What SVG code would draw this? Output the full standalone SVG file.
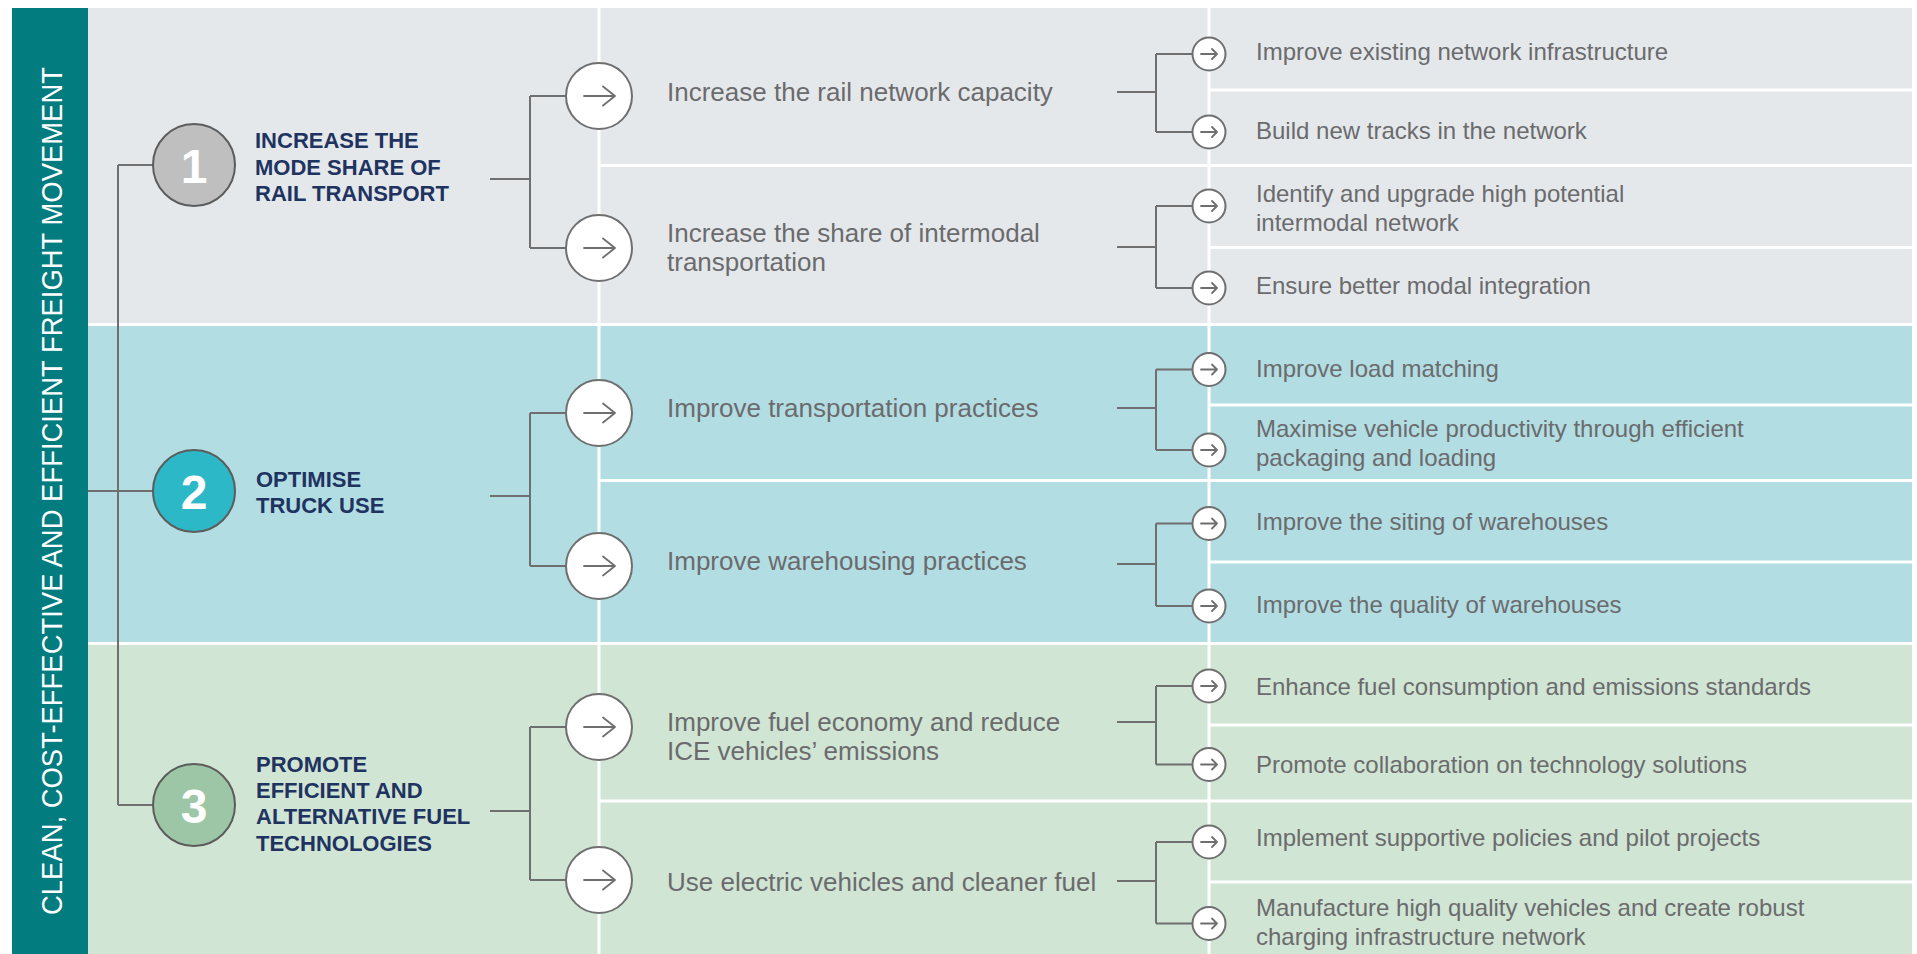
<svg xmlns="http://www.w3.org/2000/svg" width="1917" height="954" viewBox="0 0 1917 954">
<style>
.body{font-family:"Liberation Sans",Arial,sans-serif;fill:#6b6b6d}
.t2{font-size:26px}
.t3{font-size:24px}
.title{font-family:"Liberation Sans",Arial,sans-serif;font-weight:bold;font-size:22px;fill:#1f3360}
.num{font-family:"Liberation Sans",Arial,sans-serif;font-weight:bold;font-size:48px;fill:#fff;text-anchor:middle}
.conn{fill:none;stroke:#6f6f6f;stroke-width:2}
.div{stroke:#fff;stroke-width:3}
.arrow{fill:none;stroke:#6f6f6f;stroke-width:1.8;stroke-linecap:round;stroke-linejoin:round}
.big{fill:#fff;stroke:#6f6f6f;stroke-width:2}
.goal{stroke:#5c5c5c;stroke-width:2}
</style>
<defs>
<g id="bigA"><circle class="big" r="33"/><path class="arrow" d="M-15 0H16M4-9.5L16 0L4 9.5"/></g>
<g id="smallA"><circle class="big" r="16.5"/><path class="arrow" d="M-8 0H8M3-5L8 0L3 5"/></g>
</defs>

<g id="background">
<rect x="12" y="8" width="76" height="946" fill="#037c80"/>
<rect x="88" y="8" width="1824" height="317" fill="#e4e8eb"/>
<rect x="88" y="325" width="1824" height="318" fill="#b2dde3"/>
<rect x="88" y="643" width="1824" height="311" fill="#d0e5d4"/>
<line class="div" x1="88" y1="324.5" x2="1912" y2="324.5"/>
<line class="div" x1="88" y1="643.5" x2="1912" y2="643.5"/>
<line class="div" x1="599" y1="8" x2="599" y2="954"/>
<line class="div" x1="1209" y1="8" x2="1209" y2="954"/>
<line class="div" x1="599" y1="165.5" x2="1912" y2="165.5"/>
<line class="div" x1="599" y1="480.5" x2="1912" y2="480.5"/>
<line class="div" x1="599" y1="801" x2="1912" y2="801"/>
<line class="div" x1="1209" y1="90" x2="1912" y2="90"/>
<line class="div" x1="1209" y1="247.5" x2="1912" y2="247.5"/>
<line class="div" x1="1209" y1="405" x2="1912" y2="405"/>
<line class="div" x1="1209" y1="562" x2="1912" y2="562"/>
<line class="div" x1="1209" y1="725" x2="1912" y2="725"/>
<line class="div" x1="1209" y1="882" x2="1912" y2="882"/>
</g>

<g id="vision">
<text transform="translate(61.5,491) rotate(-90)" text-anchor="middle" font-family="'Liberation Sans',Arial,sans-serif" font-size="29.5" fill="#fff" textLength="848" lengthAdjust="spacingAndGlyphs">CLEAN, COST-EFFECTIVE AND EFFICIENT FREIGHT MOVEMENT</text>
</g>

<g id="connectors">
<path class="conn" d="M118 165V805M118 165H153M88 491H153M118 805H153"/>
<path class="conn" d="M490 179H530M530 96V248M530 96H566M530 248H566"/>
<path class="conn" d="M490 496H530M530 413V566M530 413H566M530 566H566"/>
<path class="conn" d="M490 811H530M530 727V880M530 727H566M530 880H566"/>
<path class="conn" d="M1117 92H1156M1156 54V132M1156 54H1192.5M1156 132H1192.5"/>
<path class="conn" d="M1117 247H1156M1156 206V288M1156 206H1192.5M1156 288H1192.5"/>
<path class="conn" d="M1117 408H1156M1156 369.5V450M1156 369.5H1192.5M1156 450H1192.5"/>
<path class="conn" d="M1117 564H1156M1156 523.5V606M1156 523.5H1192.5M1156 606H1192.5"/>
<path class="conn" d="M1117 722H1156M1156 686V764.5M1156 686H1192.5M1156 764.5H1192.5"/>
<path class="conn" d="M1117 881H1156M1156 842V923.5M1156 842H1192.5M1156 923.5H1192.5"/>
</g>

<g id="goal1">
<circle class="goal" cx="194" cy="165" r="41" fill="#bfbfbf"/>
<text class="num" x="194" y="183">1</text>
<text class="title"><tspan x="255" y="148">INCREASE THE</tspan><tspan x="255" y="175">MODE SHARE OF</tspan><tspan x="255" y="201">RAIL TRANSPORT</tspan></text>
</g>
<g id="goal2">
<circle class="goal" cx="194" cy="491" r="41" fill="#2db8c7"/>
<text class="num" x="194" y="509">2</text>
<text class="title"><tspan x="256" y="487">OPTIMISE</tspan><tspan x="256" y="513">TRUCK USE</tspan></text>
</g>
<g id="goal3">
<circle class="goal" cx="194" cy="805" r="41" fill="#9cc6a6"/>
<text class="num" x="194" y="823">3</text>
<text class="title"><tspan x="256" y="772">PROMOTE</tspan><tspan x="256" y="798">EFFICIENT AND</tspan><tspan x="256" y="824">ALTERNATIVE FUEL</tspan><tspan x="256" y="851">TECHNOLOGIES</tspan></text>
</g>

<g id="s1a"><use href="#bigA" x="599" y="96"/><text class="body t2" x="667" y="101">Increase the rail network capacity</text></g>
<g id="s1b"><use href="#bigA" x="599" y="248"/><text class="body t2"><tspan x="667" y="242">Increase the share of intermodal</tspan><tspan x="667" y="271">transportation</tspan></text></g>
<g id="s2a"><use href="#bigA" x="599" y="413"/><text class="body t2" x="667" y="417">Improve transportation practices</text></g>
<g id="s2b"><use href="#bigA" x="599" y="566"/><text class="body t2" x="667" y="570">Improve warehousing practices</text></g>
<g id="s3a"><use href="#bigA" x="599" y="727"/><text class="body t2"><tspan x="667" y="731">Improve fuel economy and reduce</tspan><tspan x="667" y="760">ICE vehicles’ emissions</tspan></text></g>
<g id="s3b"><use href="#bigA" x="599" y="880"/><text class="body t2" x="667" y="891">Use electric vehicles and cleaner fuel</text></g>

<g id="a1"><use href="#smallA" x="1209" y="54"/><text class="body t3" x="1256" y="60">Improve existing network infrastructure</text></g>
<g id="a2"><use href="#smallA" x="1209" y="132"/><text class="body t3" x="1256" y="139">Build new tracks in the network</text></g>
<g id="a3"><use href="#smallA" x="1209" y="206"/><text class="body t3"><tspan x="1256" y="202">Identify and upgrade high potential</tspan><tspan x="1256" y="231">intermodal network</tspan></text></g>
<g id="a4"><use href="#smallA" x="1209" y="288"/><text class="body t3" x="1256" y="294">Ensure better modal integration</text></g>
<g id="a5"><use href="#smallA" x="1209" y="369.5"/><text class="body t3" x="1256" y="377">Improve load matching</text></g>
<g id="a6"><use href="#smallA" x="1209" y="450"/><text class="body t3"><tspan x="1256" y="437">Maximise vehicle productivity through efficient</tspan><tspan x="1256" y="466">packaging and loading</tspan></text></g>
<g id="a7"><use href="#smallA" x="1209" y="523.5"/><text class="body t3" x="1256" y="530">Improve the siting of warehouses</text></g>
<g id="a8"><use href="#smallA" x="1209" y="606"/><text class="body t3" x="1256" y="613">Improve the quality of warehouses</text></g>
<g id="a9"><use href="#smallA" x="1209" y="686"/><text class="body t3" x="1256" y="695">Enhance fuel consumption and emissions standards</text></g>
<g id="a10"><use href="#smallA" x="1209" y="764.5"/><text class="body t3" x="1256" y="773">Promote collaboration on technology solutions</text></g>
<g id="a11"><use href="#smallA" x="1209" y="842"/><text class="body t3" x="1256" y="846">Implement supportive policies and pilot projects</text></g>
<g id="a12"><use href="#smallA" x="1209" y="923.5"/><text class="body t3"><tspan x="1256" y="916">Manufacture high quality vehicles and create robust</tspan><tspan x="1256" y="945">charging infrastructure network</tspan></text></g>
</svg>
